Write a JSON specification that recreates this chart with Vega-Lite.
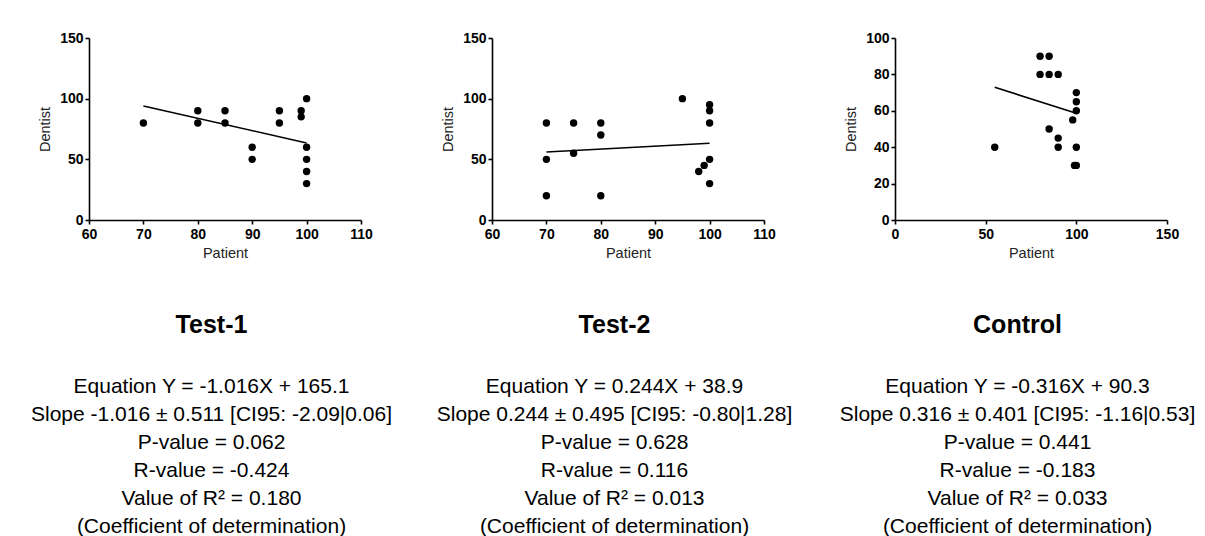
{
  "$schema": "https://vega.github.io/schema/vega-lite/v6.json",
  "background": "white",
  "padding": {"left": 31, "top": 31, "right": 5, "bottom": 5},
  "bounds": "flush",
  "spacing": 131,
  "config": {
    "font": "Liberation Sans",
    "view": {"stroke": null},
    "axis": {
      "grid": false,
      "domainColor": "#000000",
      "domainWidth": 1.6,
      "tickColor": "#000000",
      "tickWidth": 1.6,
      "tickSize": 4,
      "labelOverlap": false,
      "labelFont": "Liberation Sans",
      "labelFontSize": 14,
      "labelFontWeight": "bold",
      "labelColor": "#000000",
      "titleFont": "Liberation Sans",
      "titleFontSize": 14.5,
      "titleFontWeight": "normal",
      "titleColor": "#222222"
    },
    "axisX": {"labelPadding": 3, "titlePadding": 5, "labelFlush": false},
    "axisY": {"labelPadding": 2, "titlePadding": 7, "labelFlush": false},
    "title": {
      "orient": "bottom",
      "anchor": "middle",
      "dx": -13.5,
      "offset": 53,
      "font": "Liberation Sans",
      "fontSize": 25,
      "fontWeight": "bold",
      "color": "#000000",
      "subtitleFont": "Liberation Sans",
      "subtitleFontSize": 21,
      "subtitleColor": "#000000",
      "subtitleLineHeight": 28,
      "subtitlePadding": 38
    }
  },
  "datasets": {
    "t1": [
      {"Patient": 70, "Dentist": 80}, {"Patient": 80, "Dentist": 90}, {"Patient": 80, "Dentist": 80},
      {"Patient": 85, "Dentist": 90}, {"Patient": 85, "Dentist": 80}, {"Patient": 90, "Dentist": 60},
      {"Patient": 90, "Dentist": 50}, {"Patient": 95, "Dentist": 90}, {"Patient": 95, "Dentist": 80},
      {"Patient": 99, "Dentist": 90}, {"Patient": 99, "Dentist": 85}, {"Patient": 100, "Dentist": 100},
      {"Patient": 100, "Dentist": 60}, {"Patient": 100, "Dentist": 50}, {"Patient": 100, "Dentist": 40},
      {"Patient": 100, "Dentist": 30}
    ],
    "t1fit": [{"Patient": 70, "Dentist": 94.0}, {"Patient": 100, "Dentist": 63.5}],
    "t2": [
      {"Patient": 70, "Dentist": 80}, {"Patient": 70, "Dentist": 50}, {"Patient": 70, "Dentist": 20},
      {"Patient": 75, "Dentist": 80}, {"Patient": 75, "Dentist": 55}, {"Patient": 80, "Dentist": 80},
      {"Patient": 80, "Dentist": 70}, {"Patient": 80, "Dentist": 20}, {"Patient": 95, "Dentist": 100},
      {"Patient": 100, "Dentist": 95}, {"Patient": 100, "Dentist": 90}, {"Patient": 100, "Dentist": 80},
      {"Patient": 100, "Dentist": 50}, {"Patient": 100, "Dentist": 30}, {"Patient": 98, "Dentist": 40},
      {"Patient": 99, "Dentist": 45}
    ],
    "t2fit": [{"Patient": 70, "Dentist": 56.0}, {"Patient": 100, "Dentist": 63.3}],
    "ctrl": [
      {"Patient": 55, "Dentist": 40}, {"Patient": 80, "Dentist": 90}, {"Patient": 85, "Dentist": 90},
      {"Patient": 80, "Dentist": 80}, {"Patient": 85, "Dentist": 80}, {"Patient": 90, "Dentist": 80},
      {"Patient": 85, "Dentist": 50}, {"Patient": 90, "Dentist": 45}, {"Patient": 90, "Dentist": 40},
      {"Patient": 98, "Dentist": 55}, {"Patient": 100, "Dentist": 70}, {"Patient": 100, "Dentist": 65},
      {"Patient": 100, "Dentist": 60}, {"Patient": 100, "Dentist": 40}, {"Patient": 100, "Dentist": 30},
      {"Patient": 99, "Dentist": 30}
    ],
    "ctrlfit": [{"Patient": 55, "Dentist": 72.9}, {"Patient": 100, "Dentist": 58.7}]
  },
  "hconcat": [
    {
      "width": 272,
      "height": 182,
      "title": {
        "text": "Test-1",
        "subtitle": [
          "Equation Y = -1.016X + 165.1",
          "Slope -1.016 ± 0.511 [CI95: -2.09|0.06]",
          "P-value = 0.062",
          "R-value = -0.424",
          "Value of R² = 0.180",
          "(Coefficient of determination)"
        ]
      },
      "layer": [
        {
          "data": {"name": "t1"},
          "mark": {"type": "point", "filled": true, "color": "#000000", "size": 55, "opacity": 1},
          "encoding": {
            "x": {"field": "Patient", "type": "quantitative", "scale": {"domain": [60, 110], "nice": false, "zero": false}, "axis": {"values": [60, 70, 80, 90, 100, 110], "labelOverlap": false}},
            "y": {"field": "Dentist", "type": "quantitative", "scale": {"domain": [0, 150], "nice": false}, "axis": {"values": [0, 50, 100, 150], "labelOverlap": false}}
          }
        },
        {
          "data": {"name": "t1fit"},
          "mark": {"type": "line", "color": "#000000", "strokeWidth": 1.6},
          "encoding": {
            "x": {"field": "Patient", "type": "quantitative", "axis": {"values": [60, 70, 80, 90, 100, 110], "labelOverlap": false}},
            "y": {"field": "Dentist", "type": "quantitative", "axis": {"values": [0, 50, 100, 150], "labelOverlap": false}}
          }
        }
      ]
    },
    {
      "width": 272,
      "height": 182,
      "title": {
        "text": "Test-2",
        "subtitle": [
          "Equation Y = 0.244X + 38.9",
          "Slope 0.244 ± 0.495 [CI95: -0.80|1.28]",
          "P-value = 0.628",
          "R-value = 0.116",
          "Value of R² = 0.013",
          "(Coefficient of determination)"
        ]
      },
      "layer": [
        {
          "data": {"name": "t2"},
          "mark": {"type": "point", "filled": true, "color": "#000000", "size": 55, "opacity": 1},
          "encoding": {
            "x": {"field": "Patient", "type": "quantitative", "scale": {"domain": [60, 110], "nice": false, "zero": false}, "axis": {"values": [60, 70, 80, 90, 100, 110], "labelOverlap": false}},
            "y": {"field": "Dentist", "type": "quantitative", "scale": {"domain": [0, 150], "nice": false}, "axis": {"values": [0, 50, 100, 150], "labelOverlap": false}}
          }
        },
        {
          "data": {"name": "t2fit"},
          "mark": {"type": "line", "color": "#000000", "strokeWidth": 1.6},
          "encoding": {
            "x": {"field": "Patient", "type": "quantitative", "axis": {"values": [60, 70, 80, 90, 100, 110], "labelOverlap": false}},
            "y": {"field": "Dentist", "type": "quantitative", "axis": {"values": [0, 50, 100, 150], "labelOverlap": false}}
          }
        }
      ]
    },
    {
      "width": 272,
      "height": 182,
      "title": {
        "text": "Control",
        "subtitle": [
          "Equation Y = -0.316X + 90.3",
          "Slope 0.316 ± 0.401 [CI95: -1.16|0.53]",
          "P-value = 0.441",
          "R-value = -0.183",
          "Value of R² = 0.033",
          "(Coefficient of determination)"
        ]
      },
      "layer": [
        {
          "data": {"name": "ctrl"},
          "mark": {"type": "point", "filled": true, "color": "#000000", "size": 55, "opacity": 1},
          "encoding": {
            "x": {"field": "Patient", "type": "quantitative", "scale": {"domain": [0, 150], "nice": false}, "axis": {"values": [0, 50, 100, 150], "labelOverlap": false}},
            "y": {"field": "Dentist", "type": "quantitative", "scale": {"domain": [0, 100], "nice": false}, "axis": {"values": [0, 20, 40, 60, 80, 100], "labelOverlap": false}}
          }
        },
        {
          "data": {"name": "ctrlfit"},
          "mark": {"type": "line", "color": "#000000", "strokeWidth": 1.6},
          "encoding": {
            "x": {"field": "Patient", "type": "quantitative", "axis": {"values": [0, 50, 100, 150], "labelOverlap": false}},
            "y": {"field": "Dentist", "type": "quantitative", "axis": {"values": [0, 20, 40, 60, 80, 100], "labelOverlap": false}}
          }
        }
      ]
    }
  ]
}
